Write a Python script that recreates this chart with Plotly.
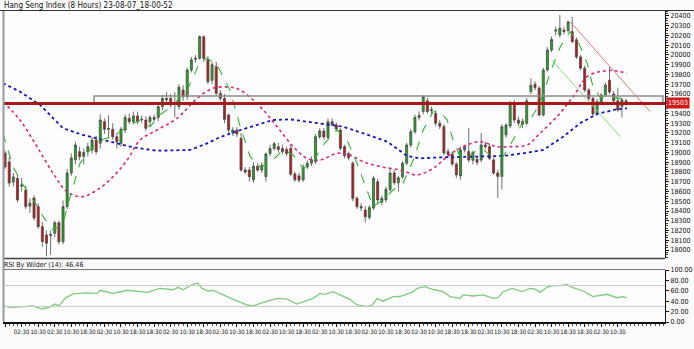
import plotly.graph_objects as go

# ---------------- data ----------------
opens = [18995,18903,18697,18735,18655,18615,18450,18533,18445,18240,18154,18150,18171,18280,18085,18445,18790,18925,19008,18960,
         19008,19026,19128,19094,19316,19238,19238,19162,19094,19230,19350,19316,19375,19335,19333,19316,19360,19360,19470,19555,
         19555,19495,19470,19640,19572,19846,19955,19966,20188,19950,19740,19880,19607,19555,19385,19200,19230,19145,18820,18820,
         18720,18860,18820,18752,18990,19040,19060,19040,19030,19043,18780,18760,18720,18850,18890,18906,19160,19220,19155,19316,
         19283,19230,19060,18990,18890,18530,18445,18410,18335,18430,18700,18490,18513,18620,18790,18690,18750,18890,19077,19213,
         19360,19420,19530,19430,19400,19300,19265,19010,18985,18882,18760,19026,19010,18920,18930,18923,19077,19060,18923,18790,
         18755,19180,19272,19510,19333,19320,19300,19625,19700,19660,19385,19846,20050,20245,20205,20255,20250,20240,20155,19980,
         19865,19640,19555,19400,19510,19590,19740,19600,19530,19470,19530]
highs = [19020,18950,18790,18770,18740,18660,18530,18560,18480,18290,18200,18200,18300,18300,18510,18830,18990,19110,19060,19040,
         19100,19160,19170,19390,19350,19380,19300,19200,19260,19390,19400,19420,19420,19380,19370,19380,19390,19500,19590,19620,
         19600,19620,19700,19690,19870,19980,20000,20200,20200,19990,19930,19930,19640,19600,19400,19260,19260,19200,18850,18850,
         18900,18890,18900,19000,19080,19110,19100,19080,19060,19080,18800,18790,18880,18920,18960,19190,19250,19250,19350,19350,
         19310,19250,19080,19010,18910,18550,18480,18450,18460,18760,18730,18560,18650,18830,18820,18760,18910,19100,19240,19390,
         19420,19590,19560,19470,19430,19330,19290,19040,19010,18900,19060,19080,19250,19020,18960,19200,19110,19090,18950,18820,
         19290,19300,19530,19540,19370,19350,19560,19760,19730,19680,19870,20080,20190,20290,20410,20290,20350,20390,20180,20000,
         19890,19660,19570,19550,19610,19720,19877,19630,19660,19560,19550]
lows = [18830,18650,18650,18490,18600,18420,18380,18300,18220,18030,17935,17950,18130,18060,18060,18420,18760,18880,18920,18880,
        18960,18990,18980,19040,19190,19150,19130,19040,19060,19200,19290,19290,19290,19300,19220,19260,19320,19320,19430,19500,
        19460,19360,19440,19530,19540,19820,19920,19950,19930,19700,19700,19580,19530,19300,19200,19170,19160,18800,18780,18700,
        18690,18800,18790,18700,18960,19020,19000,18980,18960,18760,18700,18690,18700,18830,18860,18880,19140,19130,19140,19270,
        19220,19020,18940,18920,18500,18420,18400,18280,18310,18410,18480,18460,18490,18600,18670,18600,18730,18870,19050,19190,
        19330,19390,19400,19390,19270,19240,18970,18960,18860,18740,18720,19000,18900,18880,18870,18900,19030,18920,18770,18535,
        18620,19150,19250,19300,19270,19250,19280,19600,19640,19370,19370,19830,20030,20200,20180,20210,20230,20120,19960,19840,
        19620,19530,19380,19380,19490,19570,19600,19500,19420,19360,19480]
closes = [18851,18687,18749,18513,18665,18445,18480,18328,18240,18086,18069,18158,18280,18085,18445,18790,18944,19077,18957,19000,
          19060,19128,19008,19333,19238,19245,19162,19111,19238,19360,19316,19375,19316,19340,19248,19360,19340,19470,19555,19540,
          19487,19500,19670,19572,19846,19950,19965,20188,19966,19726,19900,19607,19555,19340,19230,19230,19190,18820,18800,18752,
          18860,18820,18870,18985,19040,19090,19030,19010,18990,18777,18720,18715,18850,18890,18925,19162,19220,19160,19316,19283,
          19240,19043,18967,18945,18530,18445,18430,18340,18435,18735,18513,18530,18622,18790,18690,18740,18890,19077,19213,19360,
          19380,19572,19420,19440,19300,19270,18995,18980,18882,18770,19026,19060,18923,19000,18900,19077,19060,18940,18790,18755,
          19265,19282,19510,19333,19300,19290,19530,19690,19665,19385,19846,20050,20160,20255,20275,20240,20340,20136,19980,19865,
          19640,19555,19395,19520,19590,19690,19620,19530,19436,19540,19503]
bars = list(range(len(closes)))

# moving averages (bar position, value)
ma_fast_x = [-0.5,1.9,4.1,6.8,9.2,11.6,14,15.7,18.1,20.5,22.9,26.1,29.5,32.6,35,37.4,40.6,44,47.1,48.8,51.2,54.3,56.8,59.2,61.6,64,
             67.1,69.6,72,74.4,76.8,80.2,82.6,85,87.4,88.9,91.3,93.7,96.1,98.6,101,103.4,105.1,106.8,108.2,109.9,111.6,114,115.5,
             117.9,120.3,122.7,125.1,126.8,129.2,131.6,134.1,136.5,138.4,140.6,142,143.7,146.1,148.6,150.2]
ma_fast_y = [19197,18855,18684,18513,18342,18205,18274,18547,18889,19026,19128,19162,19265,19333,19265,19385,19487,19640,19930,19966,
             19897,19640,19265,18957,18855,18889,19026,18975,18838,18906,19077,19230,19128,18889,18615,18445,18513,18615,18684,18923,
             19230,19418,19418,19333,19128,18957,18940,19026,19026,18957,18957,19128,19316,19333,19504,19812,20085,20239,20136,19915,
             19676,19566,19566,19555,19520]
ma_mid_x = [-0.5,3.6,7.7,11.6,15,18.6,22.2,26.1,29.5,32.6,36.7,41.5,46.4,50.2,54.3,56.8,61.6,65.7,69.6,72.9,76.1,80.2,83.3,86.5,90.6,
            95.4,99.5,103.4,106.8,110.6,114.7,118.8,122,126.1,129.2,133.3,137.2,140.6,143.7,146.9,150.2]
ma_mid_y = [19520,19333,19060,18787,18598,18547,18615,18752,18923,19128,19230,19350,19555,19658,19670,19640,19470,19265,19060,18940,
            18923,18992,18975,18906,18855,18820,18770,18838,18957,19060,19111,19060,19060,19077,19197,19367,19572,19778,19829,19840,19812]
ma_slow_x = [-0.5,3.6,8.5,14,18.8,23.7,30.9,36.7,44.7,48.8,51.9,56.8,64.7,68.8,76.1,81.6,86.5,92.3,97.1,100.2,105.1,110.6,120.3,125.1,
             130,134.8,138.9,143,147.8,150.2]
ma_slow_y = [19710,19624,19487,19248,19180,19128,19053,19018,19026,19094,19156,19230,19333,19340,19300,19265,19197,19111,18964,18940,
             18950,18957,18964,18992,19026,19162,19300,19395,19443,19453]

# RSI (bar position, value)
rsi_x = [-0.4,1.2,3.6,6.8,8.9,10.9,12.1,13,14.5,16.4,19.8,22.2,22.9,26.1,29.5,32.6,34.3,37.4,40.6,41.8,43,44.7,46.4,47.6,49,50.2,
         53.6,55.1,58.5,59.9,61.6,65.7,68.1,70.5,74.4,76.1,77.3,79.2,80.9,82.6,83.3,85,87.4,88.6,89.9,91.3,93.7,95.4,98.6,99.5,101.4,
         103.4,105.8,107.5,109.9,110.6,113,115.5,117.9,119.1,120.3,122.5,124.9,126.8,128,129.2,130.9,132.4,134.1,135.7,137,139.6,142,
         145.4,147.8,149.3,150.2]
rsi_y = [30.8,28,29,31,25,29,34.6,31,45.5,54,56,55,61,55,61,58,57,64.7,62,66.7,62,70,75,64.7,59.6,61,48.7,43.6,32.7,30.8,36,45.5,44,
         34.6,45.5,55,53,58.3,52,45.5,43.6,32.7,29.5,32,45.5,40,48.7,49,58.3,64.7,68,62.5,58.3,48.7,45.5,52,50,52,45.5,47,58.3,64.7,
         58.3,64.7,63,57,66.7,70,70,72.4,66.7,59.6,48.7,53.3,46.7,48.7,46.46]

last_price = 19503
box_top = 19580
trend_red = ([136.5, 155.8], [20340, 19418])
trend_green = ([132.0, 148.6], [19950, 19162])

tick_bars = list(range(0, 152, 4))
tick_text = ["18:30","02:30","10:30","02:30","10:30","18:30","02:30","10:30","18:30","18:30","02:30","10:30","18:30",
             "02:30","10:30","18:30","02:30","10:30","18:30","02:30","10:30","18:30","02:30","10:30","18:30","02:30",
             "10:30","18:30","18:30","02:30","10:30","18:30","02:30","10:30","18:30","18:30","02:30","10:30"]
price_ticks = list(range(18000, 20401, 100))
rsi_ticks = [0, 20, 40, 60, 80, 100]

# ---------------- figure ----------------
W, H = 694, 349
ML, MR, MT, MB = 3, 29, 11, 27
PW, PH = W - ML - MR, H - MT - MB
def px(xp):
    return (xp - ML) / PW
def py(yp):
    return (H - MB - yp) / PH

FONT = "Liberation Sans Narrow, DejaVu Sans Condensed, Arial Narrow, sans-serif"
XR = [-0.5, 159.4]

fig = go.Figure()
fig.add_trace(go.Candlestick(
    x=bars, open=opens, high=highs, low=lows, close=closes,
    increasing=dict(line=dict(color="#4a4a4a", width=0.8), fillcolor="#1faa1f"),
    decreasing=dict(line=dict(color="#4a4a4a", width=0.8), fillcolor="#cc1111"),
    whiskerwidth=0, xaxis="x", yaxis="y", showlegend=False, hoverinfo="skip"))
fig.add_trace(go.Scatter(x=ma_slow_x, y=ma_slow_y, mode="lines", line=dict(color="#1515b5", width=1.8, dash="dot"),
                         xaxis="x", yaxis="y", showlegend=False, hoverinfo="skip"))
fig.add_trace(go.Scatter(x=ma_mid_x, y=ma_mid_y, mode="lines", line=dict(color="#d82a7a", width=1.6, dash="dot", shape="spline"),
                         xaxis="x", yaxis="y", showlegend=False, hoverinfo="skip"))
fig.add_trace(go.Scatter(x=ma_fast_x, y=ma_fast_y, mode="lines", line=dict(color="#2fb52f", width=1.1, dash="dash"),
                         xaxis="x", yaxis="y", showlegend=False, hoverinfo="skip"))
fig.add_trace(go.Scatter(x=trend_red[0], y=trend_red[1], mode="lines", line=dict(color="#d97a70", width=1),
                         xaxis="x", yaxis="y", showlegend=False, hoverinfo="skip"))
fig.add_trace(go.Scatter(x=trend_green[0], y=trend_green[1], mode="lines", line=dict(color="#86e07a", width=1),
                         xaxis="x", yaxis="y", showlegend=False, hoverinfo="skip"))
fig.add_trace(go.Scatter(x=rsi_x, y=rsi_y, mode="lines", line=dict(color="#7fcc7f", width=1.3),
                         xaxis="x2", yaxis="y2", showlegend=False, hoverinfo="skip"))

main_dom = [py(258), 1.0]
rsi_dom = [0.0, py(270)]

price_text = ["" if v == 19500 else str(v) for v in price_ticks]

fig.update_layout(
    width=W, height=H, margin=dict(l=ML, r=MR, t=MT, b=MB),
    paper_bgcolor="#fbfbfb", plot_bgcolor="#fdfdfd",
    font=dict(family=FONT, size=7, color="#111"),
    xaxis=dict(domain=[0, 1], range=XR, anchor="y", showticklabels=False, showgrid=False, zeroline=False,
               rangeslider=dict(visible=False), showline=False, ticks=""),
    yaxis=dict(domain=main_dom, range=[17918, 20451], side="right", anchor="x", tickvals=price_ticks,
               ticktext=price_text, ticks="outside", ticklen=3, tickcolor="#111",
               showgrid=False, zeroline=False, showline=True, linecolor="#111", linewidth=1,
               tickfont=dict(size=7, family=FONT),
               minor=dict(dtick=25, ticks="outside", ticklen=2, tickcolor="#333", showgrid=False)),
    xaxis2=dict(domain=[0, 1], range=XR, anchor="y2", tickvals=tick_bars, ticktext=tick_text, ticks="outside",
                ticklen=3, tickcolor="#111", showgrid=False, zeroline=False, showline=True, linecolor="#111",
                linewidth=2, tickfont=dict(size=6, family=FONT), tickangle=0,
                minor=dict(dtick=1, ticks="outside", ticklen=2, tickcolor="#555", showgrid=False)),
    yaxis2=dict(domain=rsi_dom, range=[0, 100], side="right", anchor="x2", tickvals=rsi_ticks,
                ticktext=["%.2f" % v for v in rsi_ticks], ticks="outside", ticklen=3, tickcolor="#111",
                showgrid=False, zeroline=False, showline=True, linecolor="#111", linewidth=1,
                tickfont=dict(size=7, family=FONT)),
)

shapes = []
for lvl in (30, 70):
    shapes.append(dict(type="line", xref="x2", yref="y2", x0=XR[0], x1=XR[1], y0=lvl, y1=lvl,
                       line=dict(color="#c8c8c8", width=1)))
shapes.append(dict(type="rect", xref="x", yref="y", x0=21.5, x1=158.9, y0=last_price, y1=box_top,
                   line=dict(color="#8a8a8a", width=1.5)))
shapes.append(dict(type="line", xref="x", yref="y", x0=XR[0], x1=XR[1], y0=last_price, y1=last_price,
                   line=dict(color="#a81818", width=3)))
shapes.append(dict(type="line", xref="paper", yref="paper", x0=px(0), x1=px(W), y0=py(10.5), y1=py(10.5),
                   line=dict(color="#333", width=1)))
shapes.append(dict(type="line", xref="paper", yref="paper", x0=0, x1=1, y0=py(258.5), y1=py(258.5),
                   line=dict(color="#444", width=1.5)))
shapes.append(dict(type="line", xref="paper", yref="paper", x0=0, x1=1, y0=py(269.5), y1=py(269.5),
                   line=dict(color="#777", width=1.2)))
shapes.append(dict(type="line", xref="paper", yref="paper", x0=px(3.5), x1=px(3.5), y0=py(322), y1=py(11),
                   line=dict(color="#9a9a9a", width=2)))
fig.update_layout(shapes=shapes)

fig.add_annotation(xref="paper", yref="paper", x=px(2), y=py(5.5), xanchor="left", yanchor="middle",
                   text="Hang Seng Index (8 Hours) 23-08-07_18-00-52", showarrow=False,
                   font=dict(size=8, family=FONT, color="#111"))
fig.add_annotation(xref="paper", yref="paper", x=px(2), y=py(264.5), xanchor="left", yanchor="middle",
                   text="RSI By Wilder (14): 46.46", showarrow=False,
                   font=dict(size=7, family=FONT, color="#111"))
fig.add_annotation(xref="paper", yref="y", x=px(666), y=last_price, xanchor="left", yanchor="middle",
                   text=str(last_price), showarrow=False, bgcolor="#d01818", borderpad=1,
                   font=dict(size=7, family=FONT, color="#ffffff"))

fig.write_html("out.html")
